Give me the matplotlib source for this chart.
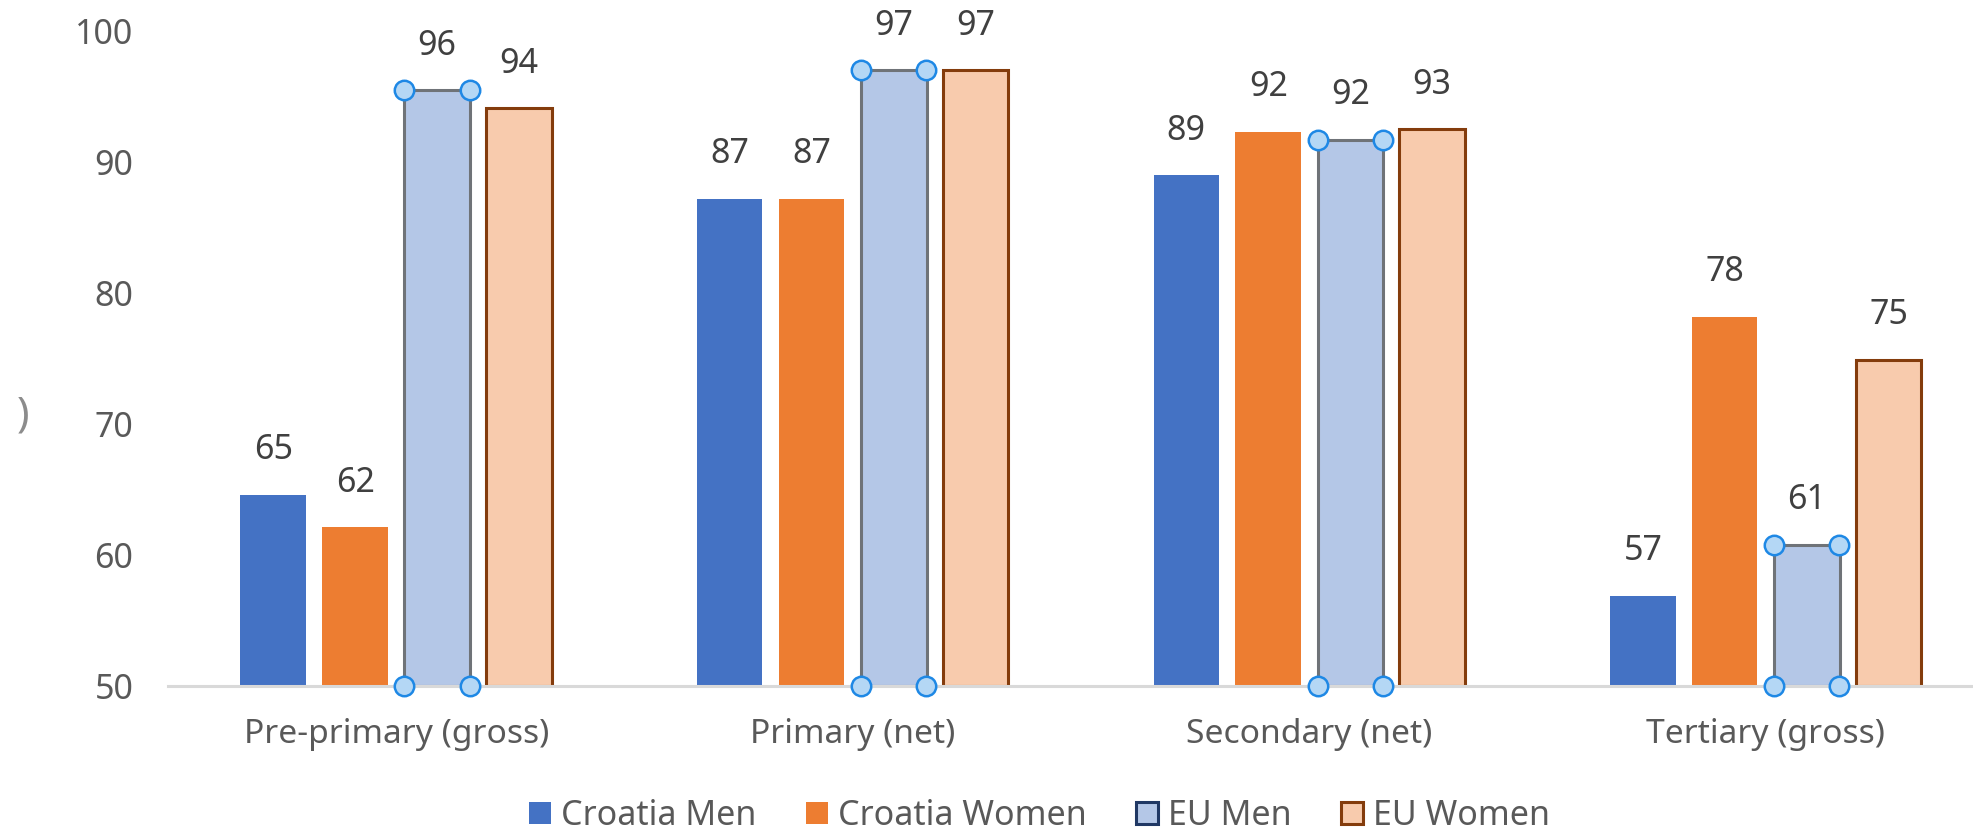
import matplotlib
matplotlib.use("Agg")
import matplotlib.pyplot as plt
from matplotlib.patches import Patch
import numpy as np

plt.rcParams['font.family'] = ['Noto Sans', 'DejaVu Sans']

categories = ["Pre-primary (gross)", "Primary (net)", "Secondary (net)", "Tertiary (gross)"]
series_names = ["Croatia Men", "Croatia Women", "EU Men", "EU Women"]
croatia_men = [64.6, 87.2, 89.0, 56.9]
croatia_women = [62.1, 87.2, 92.3, 78.2]
eu_men = [95.5, 97.0, 91.7, 60.8]
eu_women = [94.1, 97.0, 92.5, 74.9]
y_ticks = [50, 60, 70, 80, 90, 100]

series = [croatia_men, croatia_women, eu_men, eu_women]
fills = ["#4472C4", "#ED7D31", "#B4C7E7", "#F8CBAD"]
edges = [None, None, "#6F7378", "#843C0C"]
legend_edges = [None, None, "#203864", "#843C0C"]

W, H = 1974, 839
fig = plt.figure(figsize=(W / 100, H / 100), dpi=100)
ax_left = 168 / W
ax_bottom = (H - 686) / H
ax_top = (H - 31) / H
ax_width = 4 * 456.5 / W
ax = fig.add_axes([ax_left, ax_bottom, ax_width, ax_top - ax_bottom])

x = np.arange(len(categories))
pitch = 82 / 456.5
width = 65.5 / 456.5
base = 50

def label_text(v):
    return str(int(np.floor(v + 0.5)))

for i, (vals, fc, ec) in enumerate(zip(series, fills, edges)):
    xs = x + (i - 1.5) * pitch
    heights = [v - base for v in vals]
    if ec is None:
        ax.bar(xs, heights, width, bottom=base, color=fc, linewidth=0, zorder=2)
    else:
        ax.bar(xs, heights, width, bottom=base, color=fc, edgecolor=ec, linewidth=2.2, zorder=2)
    for xx, v in zip(xs, vals):
        ax.annotate(label_text(v), (xx, v), xytext=(0, 32), textcoords="offset points",
                    ha="center", va="center", fontsize=24.5, color="#404040", zorder=5)
    if i == 2:
        # selection handles at corners of the selected series
        cx = np.concatenate([xs - width / 2, xs + width / 2, xs - width / 2, xs + width / 2])
        cy = np.concatenate([vals, vals, [base] * len(vals), [base] * len(vals)])
        ax.plot(cx, cy, linestyle="none", marker="o", markersize=14,
                markerfacecolor="#B4D7F5", markeredgecolor="#1E88E5", markeredgewidth=1.8,
                zorder=6, clip_on=False)

ax.set_xlim(-0.5, 3.5)
ax.set_ylim(50, 100)
ax.set_yticks(y_ticks)
ax.set_yticklabels([str(t) for t in y_ticks])
ax.set_xticks(x)
ax.set_xticklabels(categories)
ax.tick_params(axis="y", length=0, pad=25, labelsize=24.5, labelcolor="#595959")
ax.tick_params(axis="x", length=0, pad=23, labelsize=24.2, labelcolor="#595959")
for s in ["top", "right", "left"]:
    ax.spines[s].set_visible(False)
ax.spines["bottom"].set_color("#D9D9D9")
ax.spines["bottom"].set_linewidth(2.2)
ax.spines["bottom"].set_zorder(3)

handles = []
for name, fc, ec in zip(series_names, fills, legend_edges):
    if ec is None:
        handles.append(Patch(facecolor=fc, edgecolor="none", label=name))
    else:
        handles.append(Patch(facecolor=fc, edgecolor=ec, linewidth=2.2, label=name))
fig.legend(handles=handles, loc="center", bbox_to_anchor=(1039.5 / W, (H - 816) / H),
           ncol=4, frameon=False, fontsize=24.5, labelcolor="#595959",
           handlelength=0.64, handleheight=0.64, handletextpad=0.3, columnspacing=1.45,
           borderpad=0, borderaxespad=0)

fig.text(23 / W, (H - 416) / H, ")", ha="center", va="center", fontsize=30, color="#8C8C8C")

fig.savefig("out.png", dpi=100)
